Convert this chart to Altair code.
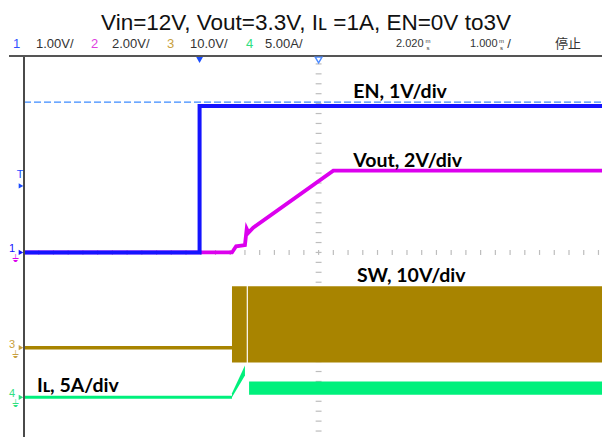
import altair as alt
import pandas as pd

# ---------------- values ----------------
# time in ms measured from the EN rising edge (trigger); screen centre = +2.020 ms, 1 ms/div
T_LEFT, T_RIGHT = -2.98, 6.83
T_CENTER = 2.02

# channel settings: units per division and ground marker (divisions from screen centre)
CHANNELS = ["EN", "Vout", "SW", "IL"]
PER_DIV = [1.0, 2.0, 10.0, 5.0]
GROUND_DIV = [0.0, 0.0, -1.92, -2.92]
COLORS = ["#1414ff", "#dc00ee", "#a88400", "#00f07c"]

# EN (ch1, 1 V/div)
en_t = [T_LEFT, 0.0, 0.0, T_RIGHT]
en_v = [0.0, 0.0, 2.95, 2.95]

# Vout (ch2, 2 V/div)
vout_t = [T_LEFT, 0.55, 0.62, 0.77, 0.80, 0.83, 0.91, 2.27, T_RIGHT]
vout_v = [0.0, 0.0, 0.25, 0.30, 0.95, 0.80, 1.00, 3.30, 3.30]

# SW (ch3, 10 V/div): idle trace, then switching envelope
sw_idle_t = [T_LEFT, 0.55]
sw_idle_v = [0.0, 0.0]
sw_env_t = [0.55, 0.80, 0.82, T_RIGHT]
sw_env_lo = [-3.0, -3.0, -3.0, -3.0]
sw_env_hi = [12.4, 12.4, 12.4, 12.4]
sw_env_seg = [1, 1, 2, 2]

# IL (ch4, 5 A/div): idle trace, inrush, then ripple envelope
il_idle_t = [T_LEFT, 0.55]
il_idle_v = [0.0, 0.0]
il_env_t = [0.55, 0.77, 0.84, T_RIGHT]
il_env_lo = [0.0, 2.2, 0.25, 0.25]
il_env_hi = [0.4, 3.2, 1.6, 1.6]
il_env_seg = [1, 1, 2, 2]

EN_CURSOR_V = 3.03      # dashed cursor on ch1
TRIG_LEVEL_V = 1.34     # trigger level marker on ch1

TITLE = "Vin=12V, Vout=3.3V, I\u029f =1A, EN=0V to3V"
LABELS = ["EN, 1V/div", "Vout, 2V/div", "SW, 10V/div", "I\u029f, 5A/div"]
LABEL_T = [2.61, 2.61, 2.67, -2.76]
LABEL_DIV = [3.23, 1.84, -0.47, -2.69]

HEADER_TEXT = ["1", "1.00V/", "2", "2.00V/", "3", "10.0V/", "4", "5.00A/", "2.020", "1.000", "停止"]
HEADER_COLOR = ["#3050ff", "#333333", "#e040e0", "#333333", "#c8a040", "#333333",
                "#30e080", "#333333", "#333333", "#333333", "#333333"]

# ---------------- helpers ----------------
def div(v, ch):
    i = CHANNELS.index(ch)
    return v / PER_DIV[i] + GROUND_DIV[i]

def line_df(ts, vs, ch):
    return pd.DataFrame({"t": ts, "div": [div(v, ch) for v in vs], "i": list(range(len(ts)))})

def band_df(ts, lo, hi, seg, ch):
    return pd.DataFrame({"t": ts, "lo": [div(v, ch) for v in lo],
                         "hi": [div(v, ch) for v in hi], "seg": seg})

W, H = 578, 382
xscale = alt.Scale(domain=[T_LEFT, T_RIGHT], nice=False, zero=False)
yscale = alt.Scale(domain=[-3.72, 3.98], nice=False, zero=False)
GRID = "#d4d4d4"

X = alt.X("t:Q", scale=xscale, axis=None)
Y = alt.Y("div:Q", scale=yscale, axis=None)

# grid (axes with grid only)
grid = alt.Chart(pd.DataFrame({"t": [T_LEFT], "div": [0.0]})).mark_point(opacity=0).encode(
    x=alt.X("t:Q", scale=xscale,
            axis=alt.Axis(values=[round(T_LEFT + k, 2) for k in range(1, 10)], grid=True,
                          gridColor=GRID, gridWidth=1.3, labels=False, ticks=False,
                          domain=False, title=None)),
    y=alt.Y("div:Q", scale=yscale,
            axis=alt.Axis(values=[-3, -2, -1, 0, 1, 2, 3], grid=True, gridColor=GRID,
                          gridWidth=1.3, labels=False, ticks=False, domain=False, title=None)),
)

# minor ticks on the centre lines
vt = pd.DataFrame({"div": [round(-3.6 + 0.2 * k, 2) for k in range(38)]})
vt["t"] = T_CENTER - 0.05
vt["t2"] = T_CENTER + 0.05
ht = pd.DataFrame({"t": [round(T_LEFT + 0.25 * k, 3) for k in range(40)]})
ht["d1"] = -0.05
ht["d2"] = 0.05
vticks = alt.Chart(vt).mark_rule(color="#bdbdbd", strokeWidth=1.2).encode(
    x=X, x2="t2:Q", y=Y)
hticks = alt.Chart(ht).mark_rule(color="#bdbdbd", strokeWidth=1.2, clip=True).encode(
    x=X, y=alt.Y("d1:Q", scale=yscale, axis=None), y2="d2:Q")

# frame lines
frame_left = alt.Chart(pd.DataFrame({"t": [T_LEFT]})).mark_rule(
    color="#4a4a4a", strokeWidth=2).encode(x=X, y=alt.value(0), y2=alt.value(H))
frame_top = alt.Chart(pd.DataFrame({"t": [T_LEFT]})).mark_rule(
    color="#555555", strokeWidth=2, clip=False).encode(
    x=alt.value(-15), x2=alt.value(W), y=alt.value(1))

# dashed cursor
cursor = alt.Chart(pd.DataFrame({"div": [div(EN_CURSOR_V, "EN")]})).mark_rule(
    color="#3d8bff", strokeWidth=1.4, strokeDash=[7, 3]).encode(
    y=Y, x=alt.value(0), x2=alt.value(W))

# traces
def trace(df, color, width):
    return alt.Chart(df).mark_line(color=color, strokeWidth=width, clip=True).encode(
        x=X, y=Y, order="i:Q")

def band(df, color):
    return alt.Chart(df).mark_area(color=color, opacity=1, clip=True).encode(
        x=X, y=alt.Y("lo:Q", scale=yscale, axis=None), y2="hi:Q", detail="seg:N")

sw_line = trace(line_df(sw_idle_t, sw_idle_v, "SW"), COLORS[2], 3.5)
sw_band = band(band_df(sw_env_t, sw_env_lo, sw_env_hi, sw_env_seg, "SW"), COLORS[2])
il_line = trace(line_df(il_idle_t, il_idle_v, "IL"), COLORS[3], 3)
il_band = band(band_df(il_env_t, il_env_lo, il_env_hi, il_env_seg, "IL"), COLORS[3])
vout_line = trace(line_df(vout_t, vout_v, "Vout"), COLORS[1], 3.8)
en_line = trace(line_df(en_t, en_v, "EN"), COLORS[0], 4)

# top markers: trigger point (filled) and screen centre delay (hollow)
trig_top = alt.Chart(pd.DataFrame({"t": [0.0]})).mark_point(
    shape="triangle-down", filled=True, size=45, color="#1a4cff", opacity=1, clip=False).encode(
    x=X, y=alt.value(5))
delay_top = alt.Chart(pd.DataFrame({"t": [T_CENTER]})).mark_point(
    shape="triangle-down", filled=False, size=45, color="#4f8cff", strokeWidth=1.4,
    opacity=1, clip=False).encode(x=X, y=alt.value(5))

# left channel markers
mk = pd.DataFrame({
    "lab": ["1", "3", "4"],
    "div": [GROUND_DIV[0], GROUND_DIV[2], GROUND_DIV[3]],
    "col": [COLORS[0], "#c8a040", "#30e080"],
})
mk_text = alt.Chart(mk).mark_text(font="Liberation Sans", fontSize=11, align="center",
                                  baseline="middle", dy=-3, clip=False).encode(
    x=alt.value(-12), y=Y, text="lab:N", color=alt.Color("col:N", scale=None))
mk_arrow = alt.Chart(mk).mark_point(shape="triangle-right", filled=True, size=28,
                                    opacity=1, clip=False).encode(
    x=alt.value(-3), y=Y, color=alt.Color("col:N", scale=None))
gnd = pd.DataFrame({"div": [GROUND_DIV[1], GROUND_DIV[2], GROUND_DIV[3]],
                    "col": [COLORS[1], "#c8a040", "#30e080"]})
mk_gnd = alt.Chart(gnd).mark_text(text="\u23da", font="DejaVu Sans", fontSize=10,
                                  baseline="middle", dy=7, clip=False).encode(
    x=alt.value(-9), y=Y, color=alt.Color("col:N", scale=None))
trig_df = pd.DataFrame({"div": [div(TRIG_LEVEL_V, "EN")]})
trig_arrow = alt.Chart(trig_df).mark_point(shape="triangle-right", filled=True, size=28,
                                           color="#1a4cff", opacity=1, clip=False).encode(
    x=alt.value(-3), y=Y)
trig_text = alt.Chart(trig_df).mark_text(text="T", font="Liberation Sans", fontSize=11,
                                         color="#1a4cff", dy=-11, clip=False).encode(
    x=alt.value(-4), y=Y)

# header readout row
hx = [13, 36, 91, 112, 167, 190, 246, 265, 396, 470, 555]
header = pd.DataFrame({"txt": HEADER_TEXT, "px": [v - 24 for v in hx], "col": HEADER_COLOR,
                       "fs": [13, 13, 13, 13, 13, 13, 13, 13, 11, 11, 13]})
head = alt.Chart(header).mark_text(font="Liberation Sans, Noto Sans CJK SC", align="left",
                                   baseline="middle", clip=False).encode(
    x=alt.X("px:Q", scale=None), y=alt.value(-11), text="txt:N",
    color=alt.Color("col:N", scale=None), size=alt.Size("fs:Q", scale=None))
units = pd.DataFrame({"txt": ["m", "s", "m", "s", "/"],
                      "px": [v - 24 for v in [428, 428, 501.5, 501.5, 509]],
                      "py": [-14.5, -7.5, -14.5, -7.5, -11],
                      "fs": [6, 6, 6, 6, 13]})
unit_marks = alt.Chart(units).mark_text(font="Liberation Sans", color="#333333",
                                        align="center", baseline="middle", clip=False).encode(
    x=alt.X("px:Q", scale=None), y=alt.Y("py:Q", scale=None), text="txt:N",
    size=alt.Size("fs:Q", scale=None))

# annotation labels
lab = alt.Chart(pd.DataFrame({"txt": LABELS, "t": LABEL_T, "div": LABEL_DIV})).mark_text(
    font="Lato", fontWeight="bold", fontSize=19.5, align="left", baseline="middle",
    color="#000000").encode(x=X, y=Y, text="txt:N")

chart = alt.layer(
    grid, vticks, hticks, cursor,
    sw_line, sw_band, il_line, il_band, vout_line, en_line,
    frame_left, frame_top, trig_top, delay_top,
    mk_gnd, mk_text, mk_arrow, trig_arrow, trig_text,
    head, unit_marks, lab,
).properties(
    width=W, height=H,
    title=alt.TitleParams(TITLE, font="Liberation Sans", fontSize=22.5, fontWeight="normal",
                          color="#111111", anchor="middle", dx=-7, offset=3),
    autosize=alt.AutoSizeParams(type="none"),
    padding={"left": 16, "top": 47, "right": 0, "bottom": 0},
    background="white",
).configure_view(stroke=None)

chart.save("out.html", embed_options={"renderer": "svg", "actions": False})
